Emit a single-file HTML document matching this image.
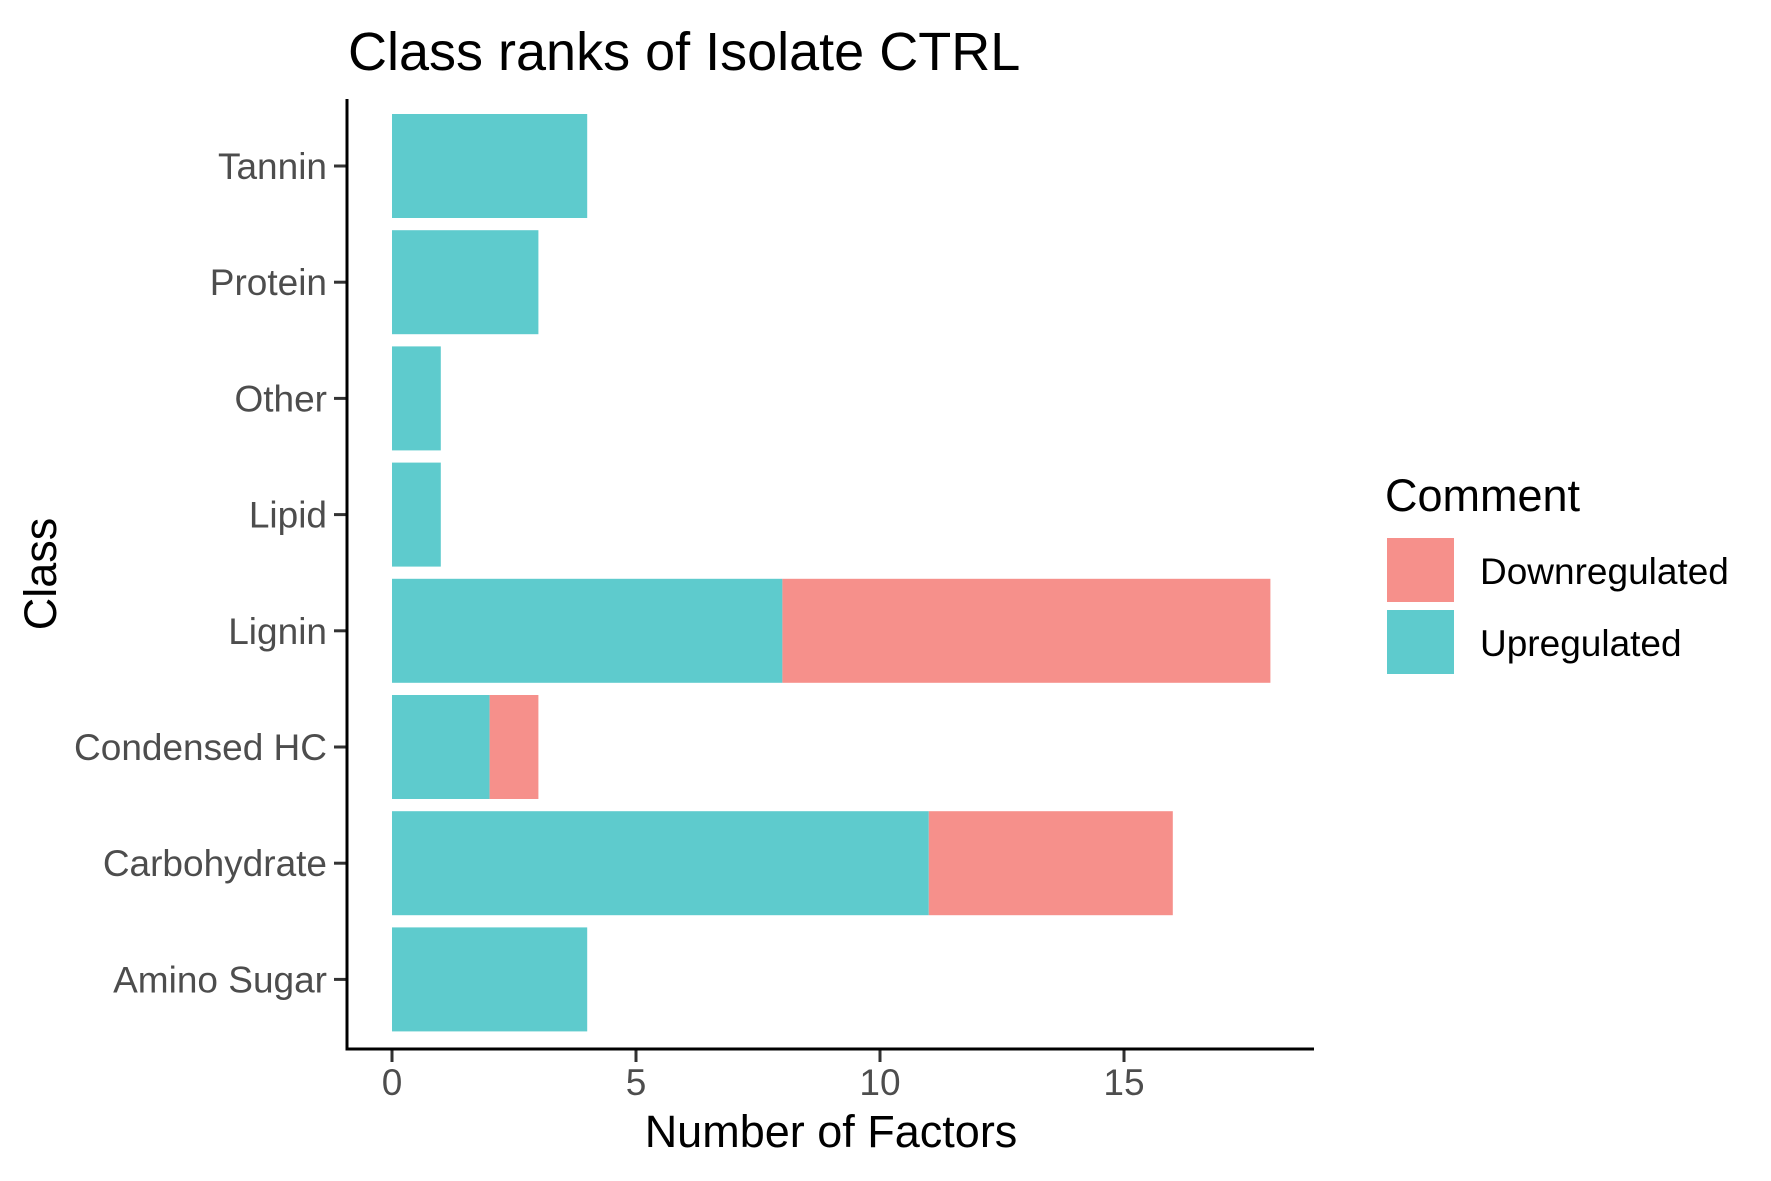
<!DOCTYPE html>
<html><head><meta charset="utf-8"><style>body{margin:0;background:#fff}svg{display:block;font-family:"Liberation Sans",Arial,sans-serif}</style></head>
<body>
<svg id="chart" width="1771" height="1181" xmlns="http://www.w3.org/2000/svg">
<rect width="1771" height="1181" fill="#fff"/>
<text x="348" y="70" font-size="54" fill="#000">Class ranks of Isolate CTRL</text>
<g id="bars"></g>
<g id="axes"></g>
<text x="831" y="1147" font-size="45" text-anchor="middle" fill="#000">Number of Factors</text>
<text transform="translate(56,574) rotate(-90)" font-size="45" text-anchor="middle" fill="#000">Class</text>
<g>
<text x="1385" y="511" font-size="45" fill="#000">Comment</text>
<rect x="1387" y="538" width="67" height="64" fill="#F6908B"/>
<text x="1480" y="584" font-size="37" fill="#000">Downregulated</text>
<rect x="1387" y="610" width="67" height="64" fill="#5ECBCD"/>
<text x="1480" y="656" font-size="37" fill="#000">Upregulated</text>
</g>
</svg>
<script>
const categories = ["Amino Sugar","Carbohydrate","Condensed HC","Lignin","Lipid","Other","Protein","Tannin"];
const upregulated = [4, 11, 2, 8, 1, 1, 3, 4];
const downregulated = [0, 5, 1, 10, 0, 0, 0, 0];
const xTicks = [0, 5, 10, 15];

const NS = "http://www.w3.org/2000/svg";
const x0 = 392, ppu = 48.8;
const xScale = v => x0 + v * ppu;
const bandTop = 166, step = 116.2, barH = 104;
const yCenter = i => bandTop + (categories.length - 1 - i) * step;
const bars = document.getElementById('bars');
const axes = document.getElementById('axes');
function mk(tag, attrs, parent) {
  const e = document.createElementNS(NS, tag);
  for (const k in attrs) e.setAttribute(k, attrs[k]);
  parent.appendChild(e);
  return e;
}
categories.forEach((c, i) => {
  const yc = yCenter(i);
  const u = mk('rect', {x: xScale(0), y: yc - barH/2, width: xScale(upregulated[i]) - xScale(0), height: barH, fill: '#5ECBCD'}, bars);
  
  
  if (downregulated[i] > 0) {
    const d = mk('rect', {x: xScale(upregulated[i]), y: yc - barH/2, width: xScale(upregulated[i] + downregulated[i]) - xScale(upregulated[i]), height: barH, fill: '#F6908B'}, bars);
    
    
  }
  const t = mk('line', {x1: 334, x2: 347, y1: yc, y2: yc, stroke: '#333', 'stroke-width': 3}, axes);
  
  
  const l = mk('text', {x: 327, y: yc + 13, 'font-size': 37, fill: '#4d4d4d', 'text-anchor': 'end'}, axes);
  l.textContent = c;
  
  
});
xTicks.forEach(v => {
  const t = mk('line', {x1: xScale(v), x2: xScale(v), y1: 1049, y2: 1062, stroke: '#333', 'stroke-width': 3}, axes);
  
  
  const l = mk('text', {x: xScale(v), y: 1095, 'font-size': 37, fill: '#4d4d4d', 'text-anchor': 'middle'}, axes);
  l.textContent = v;
  
  
});
const ya = mk('line', {x1: 347, x2: 347, y1: 99, y2: 1050.5, stroke: '#000', 'stroke-width': 3}, axes);


const xa = mk('line', {x1: 345.5, x2: 1314, y1: 1049, y2: 1049, stroke: '#000', 'stroke-width': 3}, axes);


</script>
</body></html>
